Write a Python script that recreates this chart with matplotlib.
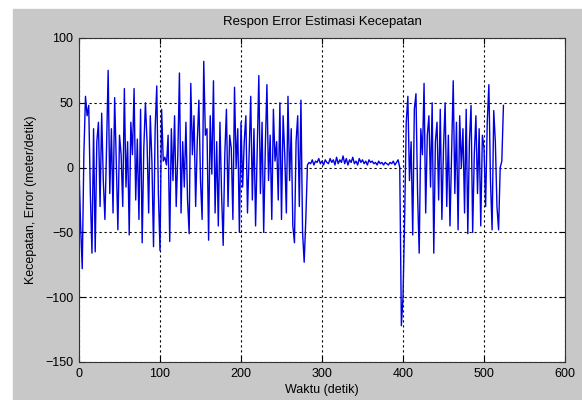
import numpy as np
import matplotlib
matplotlib.use("Agg")
import matplotlib.pyplot as plt
from matplotlib.patches import Rectangle

# error estimasi kecepatan (langkah 2 detik)
err_aktif1 = [0, -45, -78, 10, 55, 40, 48, -20, -66, 30,
              -65, 20, 35, -30, 42, -10, -40, 15, 75, -20,
              30, -35, 54, 5, -48, 25, 10, -30, 61, -15,
              20, -52, 35, 10, 61, -25, 22, -40, 45, -58,
              15, 50, 20, -35, 40, 5, -61, 30, 63, -20,
              -64, 45, 5, 8, 2, 25, -57, 30, -10, 40,
              -30, 10, 73, -35, 20, -15, 35, -25, -51, 65,
              10, 40, -30, 20, 52, -10, -40, 82, 25, 30,
              -56, 40, -5, 67, -35, 20, -45, 35, -20, -60,
              10, 45, -30, 25, 15, -40, 62, 0, 30, -50,
              35, -15, 20, 40, -35, 10, 55, -25, 30, -45,
              15, 71, -20, 35, -50, 15, 64, -10, 25, -40,
              45, 5, 20, -25, 50, -40, 40, 10, -35, 55,
              -10, 30, -45, -58, 20, 40, -30, 52, -50, -73,
              -40]
err_tenang = [2, 4, 3, 6, 2, 5, 4, 7, 3, 5,
              2, 6, 4, 3, 7, 4, 6, 2, 8, 3,
              6, 4, 9, 3, 7, 2, 6, 4, 8, 3,
              5, 2, 7, 4, 6, 3, 5, 2, 6, 4,
              5, 3, 4, 2, 5, 3, 4, 2, 4, 3,
              2, 4, 3, 5, 2, 4, 6, 0]
err_aktif2 = [-122, -100, -40, 35, 55, -10, 20, -52, 45, 57,
              -20, -66, 30, 10, 65, -35, 25, 40, -15, 50,
              -66, 20, 35, -25, 45, -40, 15, 50, -30, 25,
              -45, 10, 67, -20, 35, -48, 40, 0, 30, -35,
              45, -51, 20, 48, -50, 10, 40, -20, 30, -45,
              25, 15, -30, 35, 64, -10, -48, 44, 20, -30,
              -48, 0, 5, 48]

error = err_aktif1 + err_tenang + err_aktif2
waktu = np.arange(len(error)) * 2

plt.rcParams['font.family'] = ['Liberation Sans', 'DejaVu Sans']
plt.rcParams['font.size'] = 9

fig = plt.figure(figsize=(5.82, 4.0), dpi=100, facecolor='white')
# panel abu-abu seperti figure MATLAB
fig.patches.append(Rectangle((13 / 582, 0), 1, (400 - 9) / 400,
                             transform=fig.transFigure, color='#c8c8c8', zorder=-10))

ax = fig.add_axes([79 / 582, 38 / 400, 486 / 582, 324 / 400])
ax.plot(waktu, error, color='#0000e0', linewidth=1.0)

ax.set_xlim(0, 600)
ax.set_ylim(-150, 100)
ax.set_xticks([0, 100, 200, 300, 400, 500, 600])
ax.set_yticks([-150, -100, -50, 0, 50, 100])
ax.grid(True, color='black', linestyle=(0, (2, 2.5)), linewidth=0.8)
ax.tick_params(direction='in', length=4, width=0.8, top=True, right=True)
ax.tick_params(axis='x', pad=4)
ax.tick_params(axis='y', pad=4)
for s in ax.spines.values():
    s.set_linewidth(0.8)
    s.set_color('#333333')

ax.set_title('Respon Error Estimasi Kecepatan', fontsize=9.5, pad=9)
ax.set_xlabel('Waktu (detik)', fontsize=9, labelpad=3)
ax.set_ylabel('Kecepatan, Error (meter/detik)', fontsize=9, labelpad=6)

fig.savefig('out.png', dpi=100, facecolor=fig.get_facecolor())
